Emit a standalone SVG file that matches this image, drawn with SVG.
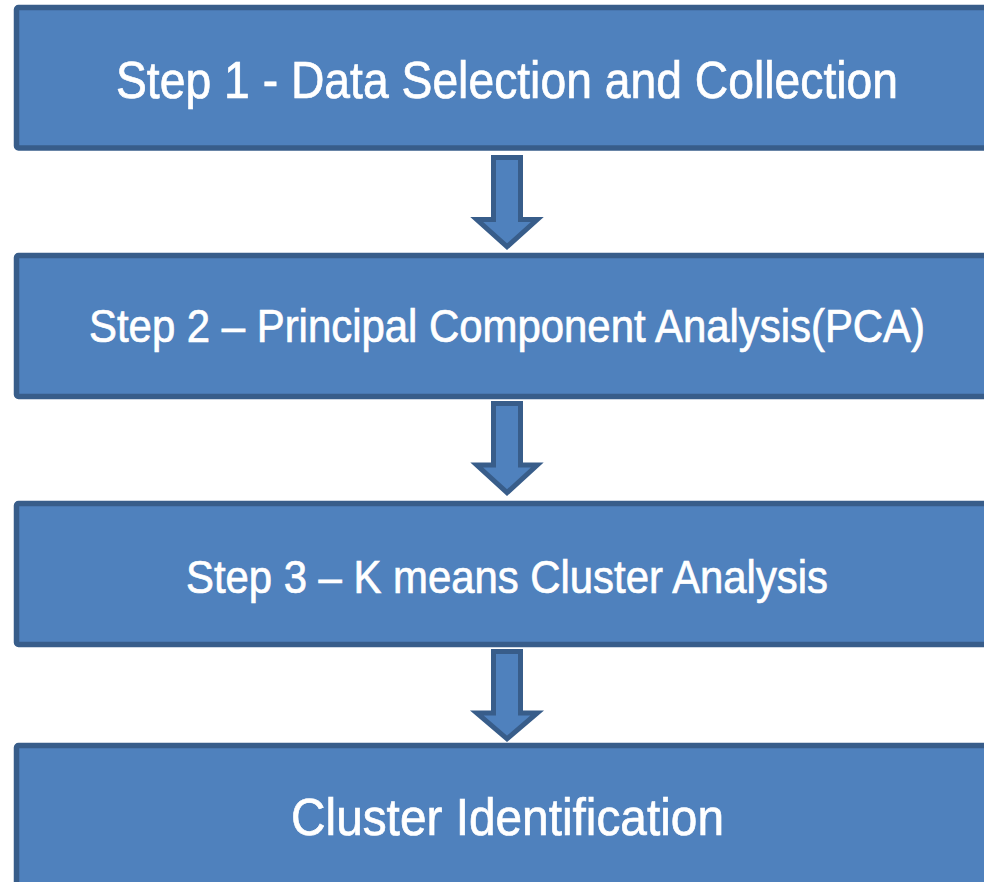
<svg xmlns="http://www.w3.org/2000/svg" width="984" height="882" viewBox="0 0 984 882">
  <style>
    .box { fill: #4F81BD; stroke: #385D8A; stroke-width: 5.5; }
    .arrow { fill: #4F81BD; stroke: #385D8A; stroke-width: 5; stroke-linejoin: miter; }
    .label { fill: #FFFFFF; stroke: #FFFFFF; stroke-width: 0.7; font-family: "Liberation Sans Narrow", "Liberation Sans", Arial, sans-serif; text-anchor: middle; }
  </style>
  <rect width="984" height="882" fill="#FFFFFF"/>

  <g id="step1">
    <rect class="box" x="16.5" y="7.5" width="990" height="140.5" rx="2"/>
    <text class="label" x="507" y="97.7" font-size="52" textLength="782" lengthAdjust="spacingAndGlyphs">Step 1 - Data Selection and Collection</text>
  </g>

  <g id="step2">
    <rect class="box" x="16.5" y="255.5" width="990" height="141" rx="2"/>
    <text class="label" x="507" y="341.7" font-size="46.5" textLength="836" lengthAdjust="spacingAndGlyphs">Step 2 – Principal Component Analysis(PCA)</text>
  </g>

  <g id="step3">
    <rect class="box" x="16.5" y="503.5" width="990" height="141" rx="2"/>
    <text class="label" x="507" y="593" font-size="46.5" textLength="642" lengthAdjust="spacingAndGlyphs">Step 3 – K means Cluster Analysis</text>
  </g>

  <g id="step4">
    <rect class="box" x="16.5" y="745.5" width="990" height="160" rx="2"/>
    <text class="label" x="507.5" y="835" font-size="52" textLength="433" lengthAdjust="spacingAndGlyphs">Cluster Identification</text>
  </g>

  <g id="connectors">
    <path class="arrow" transform="translate(507,157.5)" d="M -13.5,0 H 13.5 V 62 H 30.25 L 0,89.2 L -30.25,62 H -13.5 Z"/>
    <path class="arrow" transform="translate(507,403.5)" d="M -13.5,0 H 13.5 V 61.5 H 30.25 L 0,89.2 L -30.25,61.5 H -13.5 Z"/>
    <path class="arrow" transform="translate(507,651.5)" d="M -13.5,0 H 13.5 V 61.5 H 30.25 L 0,87.3 L -30.25,61.5 H -13.5 Z"/>
  </g>
</svg>
